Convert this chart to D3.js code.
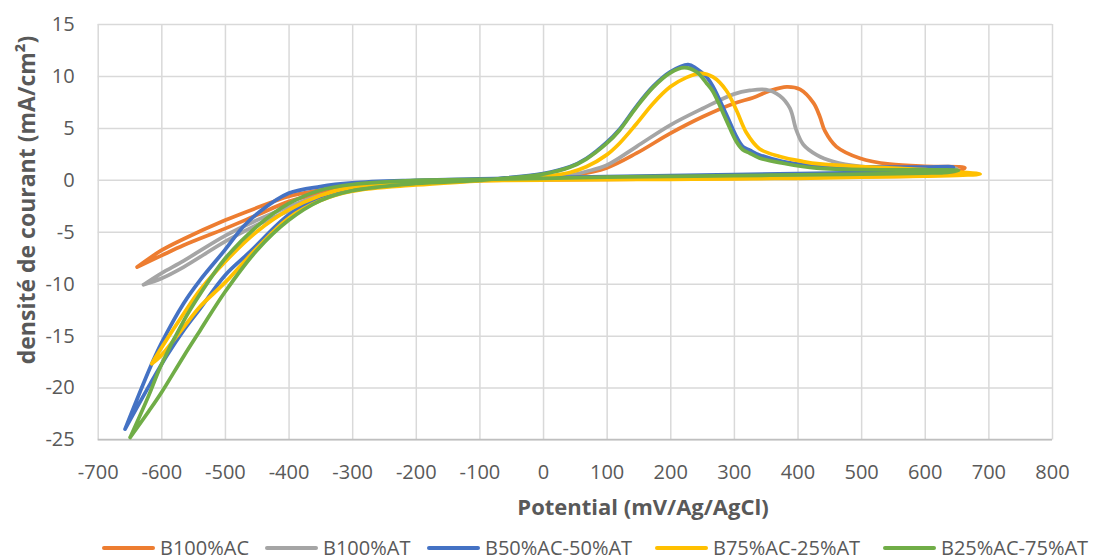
<!DOCTYPE html>
<html><head><meta charset="utf-8">
<script src="https://cdn.jsdelivr.net/npm/d3@7"></script>
<style>
html,body{margin:0;padding:0;background:#fff;}
svg{display:block;font-family:"Open Sans","Noto Sans",sans-serif;}
</style></head>
<body>
<svg id="chart" width="1093" height="560"></svg>
<script>
// ---------- data ----------
const seriesNames = ["B100%AC", "B100%AT", "B50%AC-50%AT", "B75%AC-25%AT", "B25%AC-75%AT"];
const xTicks = [-700, -600, -500, -400, -300, -200, -100, 0, 100, 200, 300, 400, 500, 600, 700, 800];
const yTicks = [15, 10, 5, 0, -5, -10, -15, -20, -25];

// each loop: cathodic end -> forward scan -> anodic end -> return scan -> cathodic end
const b100AC_E = [-638, -600, -565, -500, -450, -400, -350, -300, -200, -100, 0, 50, 100, 147, 200, 251, 300, 330, 356, 383, 404, 425, 435, 443, 461, 498, 545, 614, 663,
                  640, 600, 500, 400, 300, 200, 100, 0, -100, -200, -300, -350, -400, -450, -500, -565, -600, -638];
const b100AC_J = [-8.4, -7.3, -6.3, -4.7, -3.4, -2.1, -1.3, -0.8, -0.3, -0.05, 0.15, 0.45, 1.15, 2.56, 4.47, 6.07, 7.35, 7.9, 8.55, 8.95, 8.7, 7.4, 6.1, 4.7, 3.2, 2.08, 1.5, 1.28, 1.15,
                  0.6, 0.4, 0.3, 0.22, 0.15, 0.1, 0.05, 0.0, -0.05, -0.15, -0.55, -1.0, -1.6, -2.7, -3.9, -5.7, -6.8, -8.4];

const b100AT_E = [-628, -600, -565, -500, -450, -400, -350, -300, -200, -100, 0, 42, 68, 100, 147, 200, 251, 300, 325, 350, 372, 388, 398, 409, 430, 456, 498, 561, 650,
                  630, 600, 500, 400, 300, 200, 100, 0, -100, -200, -300, -350, -400, -450, -500, -565, -600, -628];
const b100AT_J = [-10.1, -9.5, -8.4, -5.95, -4.35, -3.0, -1.85, -1.0, -0.35, -0.05, 0.2, 0.45, 0.8, 1.4, 3.2, 5.27, 6.87, 8.25, 8.6, 8.68, 8.1, 6.9, 4.8, 3.4, 2.4, 1.76, 1.3, 1.15, 1.1,
                  0.6, 0.5, 0.42, 0.35, 0.28, 0.2, 0.12, 0.05, 0.0, -0.2, -0.8, -1.5, -2.6, -3.9, -5.4, -7.8, -9.0, -10.1];

const b50AC50AT_E = [-657, -617, -591, -565, -539, -500, -460, -400, -350, -300, -200, -100, 0, 42, 68, 100, 120, 147, 173, 200, 228, 241, 257, 267, 288, 304, 314, 325, 340, 377, 430, 498, 600, 645,
                     630, 600, 500, 400, 300, 200, 100, 0, -100, -200, -300, -350, -400, -445, -471, -500, -539, -565, -600, -617, -657];
const b50AC50AT_J = [-24.0, -19.6, -16.9, -14.5, -12.4, -9.2, -6.9, -3.4, -1.7, -0.9, -0.3, -0.02, 0.6, 1.25, 2.05, 3.6, 4.85, 7.1, 9.0, 10.4, 11.1, 10.7, 9.9, 9.0, 6.3, 4.15, 3.2, 2.85, 2.4, 1.76, 1.35, 1.25, 1.22, 1.2,
                     0.85, 0.75, 0.68, 0.6, 0.5, 0.4, 0.3, 0.2, 0.1, -0.05, -0.3, -0.65, -1.3, -3.05, -4.5, -6.75, -9.65, -11.9, -15.75, -18.0, -24.0];

const b75AC25AT_E = [-615, -600, -565, -539, -500, -450, -400, -350, -300, -200, -100, 0, 42, 68, 100, 120, 147, 173, 200, 225, 248, 267, 288, 304, 320, 340, 372, 409, 435, 498, 560, 620, 687,
                     660, 600, 500, 400, 300, 200, 100, 0, -100, -200, -300, -350, -400, -450, -500, -539, -565, -600, -615];
const b75AC25AT_J = [-17.7, -16.9, -14.2, -12.2, -9.9, -6.6, -3.7, -2.0, -1.1, -0.5, -0.1, 0.32, 0.7, 1.25, 2.4, 3.5, 5.4, 7.35, 8.95, 9.84, 10.25, 9.9, 8.6, 6.7, 4.5, 3.0, 2.24, 1.76, 1.53, 1.28, 1.1, 0.9, 0.55,
                     0.45, 0.35, 0.25, 0.15, 0.1, 0.05, 0.02, -0.02, -0.1, -0.2, -0.7, -1.5, -2.9, -5.0, -7.9, -10.6, -12.9, -16.2, -17.7];

const b25AC75AT_E = [-649, -620, -600, -565, -539, -500, -450, -400, -350, -300, -200, -100, 0, 42, 68, 100, 120, 147, 173, 200, 222, 241, 257, 267, 288, 304, 314, 325, 340, 377, 430, 535, 653,
                     630, 600, 500, 400, 300, 200, 100, 0, -100, -200, -300, -350, -400, -450, -500, -539, -565, -600, -620, -649];
const b25AC75AT_J = [-24.8, -22.3, -20.5, -17.0, -14.5, -10.8, -6.8, -3.9, -2.0, -1.05, -0.35, -0.05, 0.55, 1.2, 2.0, 3.5, 4.75, 7.0, 8.9, 10.3, 10.8, 10.4, 9.3, 8.5, 5.75, 3.67, 2.9, 2.56, 2.1, 1.6, 1.12, 0.96, 0.9,
                     0.7, 0.65, 0.55, 0.48, 0.4, 0.32, 0.25, 0.15, 0.05, -0.05, -0.45, -1.0, -2.3, -4.5, -7.6, -11.0, -13.6, -17.8, -20.8, -24.8];

const seriesE = [b100AC_E, b100AT_E, b50AC50AT_E, b75AC25AT_E, b25AC75AT_E];
const seriesJ = [b100AC_J, b100AT_J, b50AC50AT_J, b75AC25AT_J, b25AC75AT_J];
const colors = ["#ED7D31", "#A5A5A5", "#4472C4", "#FFC000", "#70AD47"];

// ---------- layout ----------
const svg = d3.select("#chart");
const plotL = 97.7, plotR = 1052, plotT = 24, plotB = 439.5;
const x = d3.scaleLinear().domain([-700, 800]).range([plotL, plotR]);
const y = d3.scaleLinear().domain([-25, 15]).range([plotB, plotT]);
const textColor = "#595959";

// gridlines + axes
const gx = svg.append("g").attr("transform", `translate(0,${plotB})`)
  .call(d3.axisBottom(x).tickValues(xTicks).tickSize(-(plotB - plotT)).tickPadding(25).tickFormat(d => String(d)));
const gy = svg.append("g").attr("transform", `translate(${plotL},0)`)
  .call(d3.axisLeft(y).tickValues(yTicks).tickSize(-(plotR - plotL)).tickPadding(23).tickFormat(d => String(d)));
[gx, gy].forEach(g => {
  g.select(".domain").remove();
  g.selectAll(".tick line").attr("stroke", "#d9d9d9").attr("stroke-width", 1.5);
  g.selectAll(".tick text").attr("fill", textColor).style("font-size", "20px")
    .style("font-family", '"Open Sans","Noto Sans",sans-serif');
});
gx.selectAll(".tick text").attr("dy", "0.71em");
// bottom axis line slightly darker
svg.append("line").attr("x1", plotL).attr("x2", plotR).attr("y1", plotB).attr("y2", plotB)
  .attr("stroke", "#bfbfbf").attr("stroke-width", 1.5);

// curves
const line = d3.line().x(d => x(d[0])).y(d => y(d[1])).curve(d3.curveCatmullRom.alpha(0.5));
seriesNames.forEach((name, i) => {
  const pts = seriesE[i].map((e, k) => [e, seriesJ[i][k]]);
  svg.append("path").datum(pts).attr("d", line)
    .attr("fill", "none").attr("stroke", colors[i]).attr("stroke-width", 3.75)
    .attr("stroke-linejoin", "round").attr("stroke-linecap", "round");
});

// axis titles
svg.append("text").attr("x", 643).attr("y", 515).attr("text-anchor", "middle")
  .attr("fill", textColor).style("font-size", "22px").style("font-weight", "bold")
  .text("Potential (mV/Ag/AgCl)");
svg.append("text").attr("transform", "translate(35,200) rotate(-90)").attr("text-anchor", "middle")
  .attr("fill", textColor).style("font-size", "23px").style("font-weight", "bold")
  .text("densité de courant (mA/cm²)");

// legend
const legendX = [102, 265, 427, 655, 883];
const lg = svg.append("g");
seriesNames.forEach((name, i) => {
  const g = lg.append("g").attr("transform", `translate(${legendX[i]},548)`);
  g.append("line").attr("x1", 2).attr("x2", 51).attr("y1", 0).attr("y2", 0)
    .attr("stroke", colors[i]).attr("stroke-width", 4).attr("stroke-linecap", "round");
  g.append("text").attr("x", 58).attr("y", 7).attr("fill", textColor)
    .style("font-size", "20px").text(name);
});
</script>
</body></html>
